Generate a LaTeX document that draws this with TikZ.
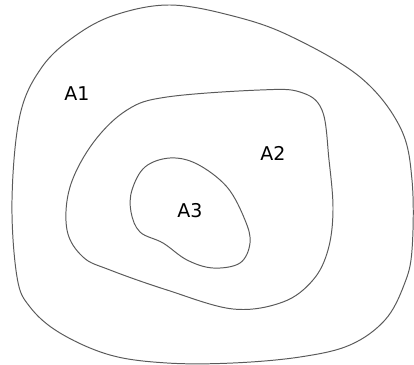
\documentclass[tikz,border=0pt]{standalone}
\usepackage{fontspec}
\setmainfont{DejaVu Sans}
\usepackage{tikz}
\usetikzlibrary{positioning}
\definecolor{LineGray}{RGB}{90,90,90}
\tikzset{
  region/.style={draw=LineGray,line width=0.7pt},
  arealabel/.style={inner sep=0pt,font=\fontsize{13.5}{16}\selectfont},
}

\begin{document}
\begin{tikzpicture}[x=0.025cm,y=-0.025cm]
    \useasboundingbox (0,0) rectangle (414,365);
    % outer region
    \draw[region] plot[smooth cycle,tension=0.6] coordinates {
      (170,5) (233,16) (290,36) (360,77) (400,127) (412,180) (412,250)
      (404,285) (385,320) (350,345) (300,357) (233,363) (167,363)
      (110,355) (60,333) (30,307) (17,277) (12,200) (20,115)
      (42,67) (75,36) (115,15)};
    % middle region
    \draw[region] plot[smooth cycle,tension=0.6] coordinates {
      (167,97) (260,90) (300,92) (322,110) (329,160) (333,210)
      (328,250) (313,280) (283,302) (233,309) (167,290) (110,270)
      (83,257) (67,230) (70,187) (93,143) (127,110)};
    % inner region
    \draw[region] plot[smooth cycle,tension=0.6] coordinates {
      (170,158) (197,164) (227,187) (245,220) (250,243) (240,263)
      (213,268) (187,260) (163,243) (140,232) (131,212) (132,190)
      (145,167)};
    \node[arealabel] (A1) at (77,94) {A1};
    \node[arealabel] (A2) at (273,153) {A2};
    \node[arealabel] (A3) at (190,211) {A3};
\end{tikzpicture}
\end{document}
